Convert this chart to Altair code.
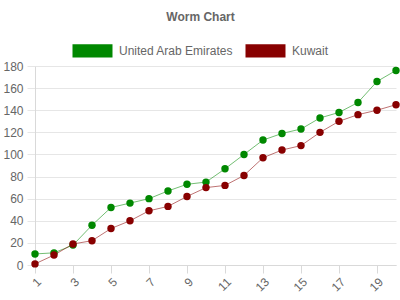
import altair as alt
import pandas as pd

x_vals = list(range(1, 21))
uae = [10, 11, 18, 36, 52, 56, 60, 67, 73, 75, 87, 100, 113, 119, 123, 133, 138, 147, 166, 176]
kuwait = [1, 9, 19, 22, 33, 40, 49, 53, 62, 70, 72, 81, 97, 104, 108, 120, 130, 136, 140, 145]
series = ["United Arab Emirates", "Kuwait"]
colors = ["#008800", "#880000"]
x_ticks = list(range(1, 21, 2))
y_ticks = list(range(0, 181, 20))

rows = []
for i, x in enumerate(x_vals):
    rows.append({"x": x, "value": uae[i], "series": series[0]})
    rows.append({"x": x, "value": kuwait[i], "series": series[1]})
df = pd.DataFrame(rows)

font = "Liberation Sans"

x_enc = alt.X("x:Q", scale=alt.Scale(domain=[1, 20], nice=False),
              axis=alt.Axis(values=x_ticks, labelAngle=-45, grid=False, title=None,
                            domainColor="#d9d9d9", tickColor="#d9d9d9", tickSize=8,
                            labelColor="#666666", labelFont=font, labelFontSize=12,
                            labelPadding=3))
y_enc = alt.Y("value:Q", scale=alt.Scale(domain=[0, 180], nice=False),
              axis=alt.Axis(values=y_ticks, title=None, gridColor="#e6e6e6",
                            domainColor="#d9d9d9", tickColor="#e6e6e6", tickSize=8,
                            labelColor="#666666", labelFont=font, labelFontSize=12,
                            labelPadding=4))

color_enc = alt.Color("series:N", scale=alt.Scale(domain=series, range=colors),
                      legend=alt.Legend(title=None, orient="none", direction="horizontal",
                                        legendX=44, legendY=-29, padding=0,
                                        symbolType="M-1.5,-0.5H1.5V0.5H-1.5Z", symbolSize=711,
                                        symbolStrokeWidth=0, symbolOpacity=1,
                                        labelFont=font, labelFontSize=12, labelColor="#666666",
                                        labelOffset=13, columnPadding=11))

lines = alt.Chart(df).mark_line(strokeWidth=1, strokeOpacity=0.55).encode(
    x=x_enc, y=y_enc, color=color_enc,
)

points = alt.Chart(df).mark_circle(size=55, opacity=1).encode(
    x=x_enc, y=y_enc, color=color_enc,
)

chart = alt.layer(lines, points).properties(
    width=361, height=199,
    title=alt.TitleParams("Worm Chart", anchor="middle", font=font, fontSize=12,
                          fontWeight="bold", color="#666666", offset=13, dx=-15),
    autosize=alt.AutoSizeParams(type="none"),
    padding={"left": 35, "top": 66, "right": 4, "bottom": 35},
).configure_view(stroke=None)

chart.save("out.html", embed_options={"renderer": "svg", "actions": False})
